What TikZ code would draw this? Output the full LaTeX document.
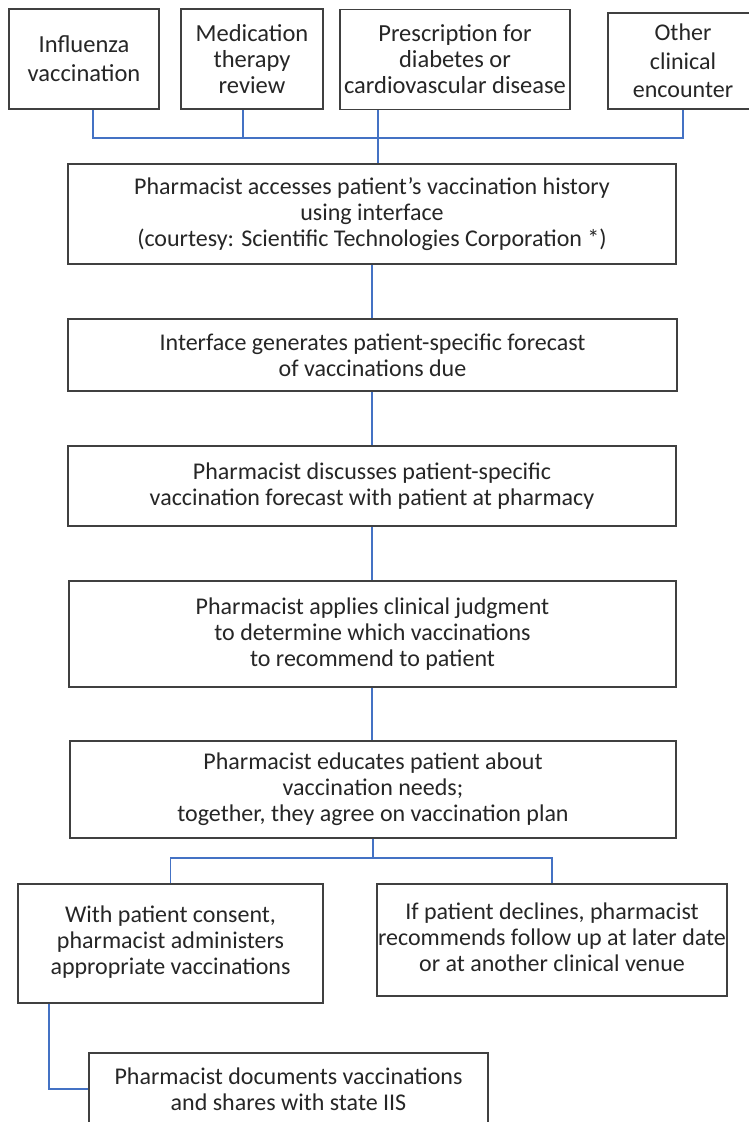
\documentclass[tikz,border=0pt]{standalone}
\usepackage{fontspec}
\setmainfont{Carlito}
\usetikzlibrary{calc}
\definecolor{boxline}{HTML}{404040}
\definecolor{conn}{HTML}{4472C4}
\definecolor{txt}{HTML}{262626}
\tikzset{
  box/.style={draw=boxline, line width=1.5pt, fill=white, align=center, inner sep=0pt,
    text=txt, font=\fontsize{24}{26}\selectfont},
  link/.style={draw=conn, line width=1.3pt}
}
\begin{document}
\begin{tikzpicture}[x=1pt,y=-1pt]
\useasboundingbox (0,0) rectangle (749,1122);
% top row
\node[box, minimum width=150pt, minimum height=100pt, font=\fontsize{24.5}{29}\selectfont] (inf) at (84,59) {Influenza\\vaccination};
\node[box, minimum width=142pt, minimum height=100pt, font=\fontsize{24.5}{26}\selectfont] (med) at (252,59) {Medication\\therapy\\review};
\node[box, minimum width=230pt, minimum height=100pt, font=\fontsize{24.5}{26}\selectfont] (pre) at (455,59.5) {Prescription for\\diabetes or\\cardiovascular disease};
\node[box, minimum width=150pt, minimum height=96pt, font=\fontsize{24}{28.5}\selectfont] (oth) at (683,61) {Other\\clinical\\encounter};
% main column
\node[box, minimum width=608pt, minimum height=100pt] (b1) at (372,214) {Pharmacist accesses patient’s vaccination history\\using interface\\(courtesy: Scientific Technologies Corporation *)};
\node[box, minimum width=609pt, minimum height=72pt] (b2) at (372.5,355) {Interface generates patient-specific forecast\\of vaccinations due};
\node[box, minimum width=608pt, minimum height=80pt] (b3) at (372,486) {Pharmacist discusses patient-specific\\vaccination forecast with patient at pharmacy};
\node[box, minimum width=607pt, minimum height=106pt] (b4) at (372.5,634) {Pharmacist applies clinical judgment\\to determine which vaccinations\\to recommend to patient};
\node[box, minimum width=606pt, minimum height=97pt] (b5) at (373,789.5) {Pharmacist educates patient about\\vaccination needs;\\together, they agree on vaccination plan};
\node[box, minimum width=305pt, minimum height=119pt] (b6) at (170.5,943.5) {\raisebox{5pt}{\begin{tabular}{@{}c@{}}With patient consent,\\pharmacist administers\\appropriate vaccinations\end{tabular}}};
\node[box, minimum width=350pt, minimum height=112pt] (b7) at (552,940) {\raisebox{5pt}{\begin{tabular}{@{}c@{}}If patient declines, pharmacist\\recommends follow up at later date\\or at another clinical venue\end{tabular}}};
\node[box, minimum width=399pt, minimum height=72pt] (b8) at (288.5,1089) {Pharmacist documents vaccinations\\and shares with state IIS};
% connectors
\coordinate (bus) at (0,138);
\draw[link] ([xshift=9pt]inf.south) -- ([xshift=9pt]inf.south |- bus) -- (oth.south |- bus) -- (oth.south);
\draw[link] ([xshift=-9pt]med.south) -- ([xshift=-9pt]med.south |- bus);
\draw[link] ([xshift=-77pt]pre.south) -- ([xshift=-77pt]pre.south |- b1.north);
\draw[link] (b1.south) -- (b1.south |- b2.north);
\draw[link] (b2.south -| b1.south) -- (b1.south |- b3.north);
\draw[link] (b3.south) -- (b3.south |- b4.north);
\draw[link] (b4.south -| b3.south) -- (b3.south |- b5.north);
\coordinate (split) at (0,858);
\draw[link] (b5.south) -- (b5.south |- split);
\draw[link] (b6.north) -- (b6.north |- split) -- (b7.north |- split) -- (b7.north);
\draw[link] ([xshift=-121.5pt]b6.south) -- ([xshift=-121.5pt]b6.south |- b8.west) -- (b8.west);
\end{tikzpicture}
\end{document}
